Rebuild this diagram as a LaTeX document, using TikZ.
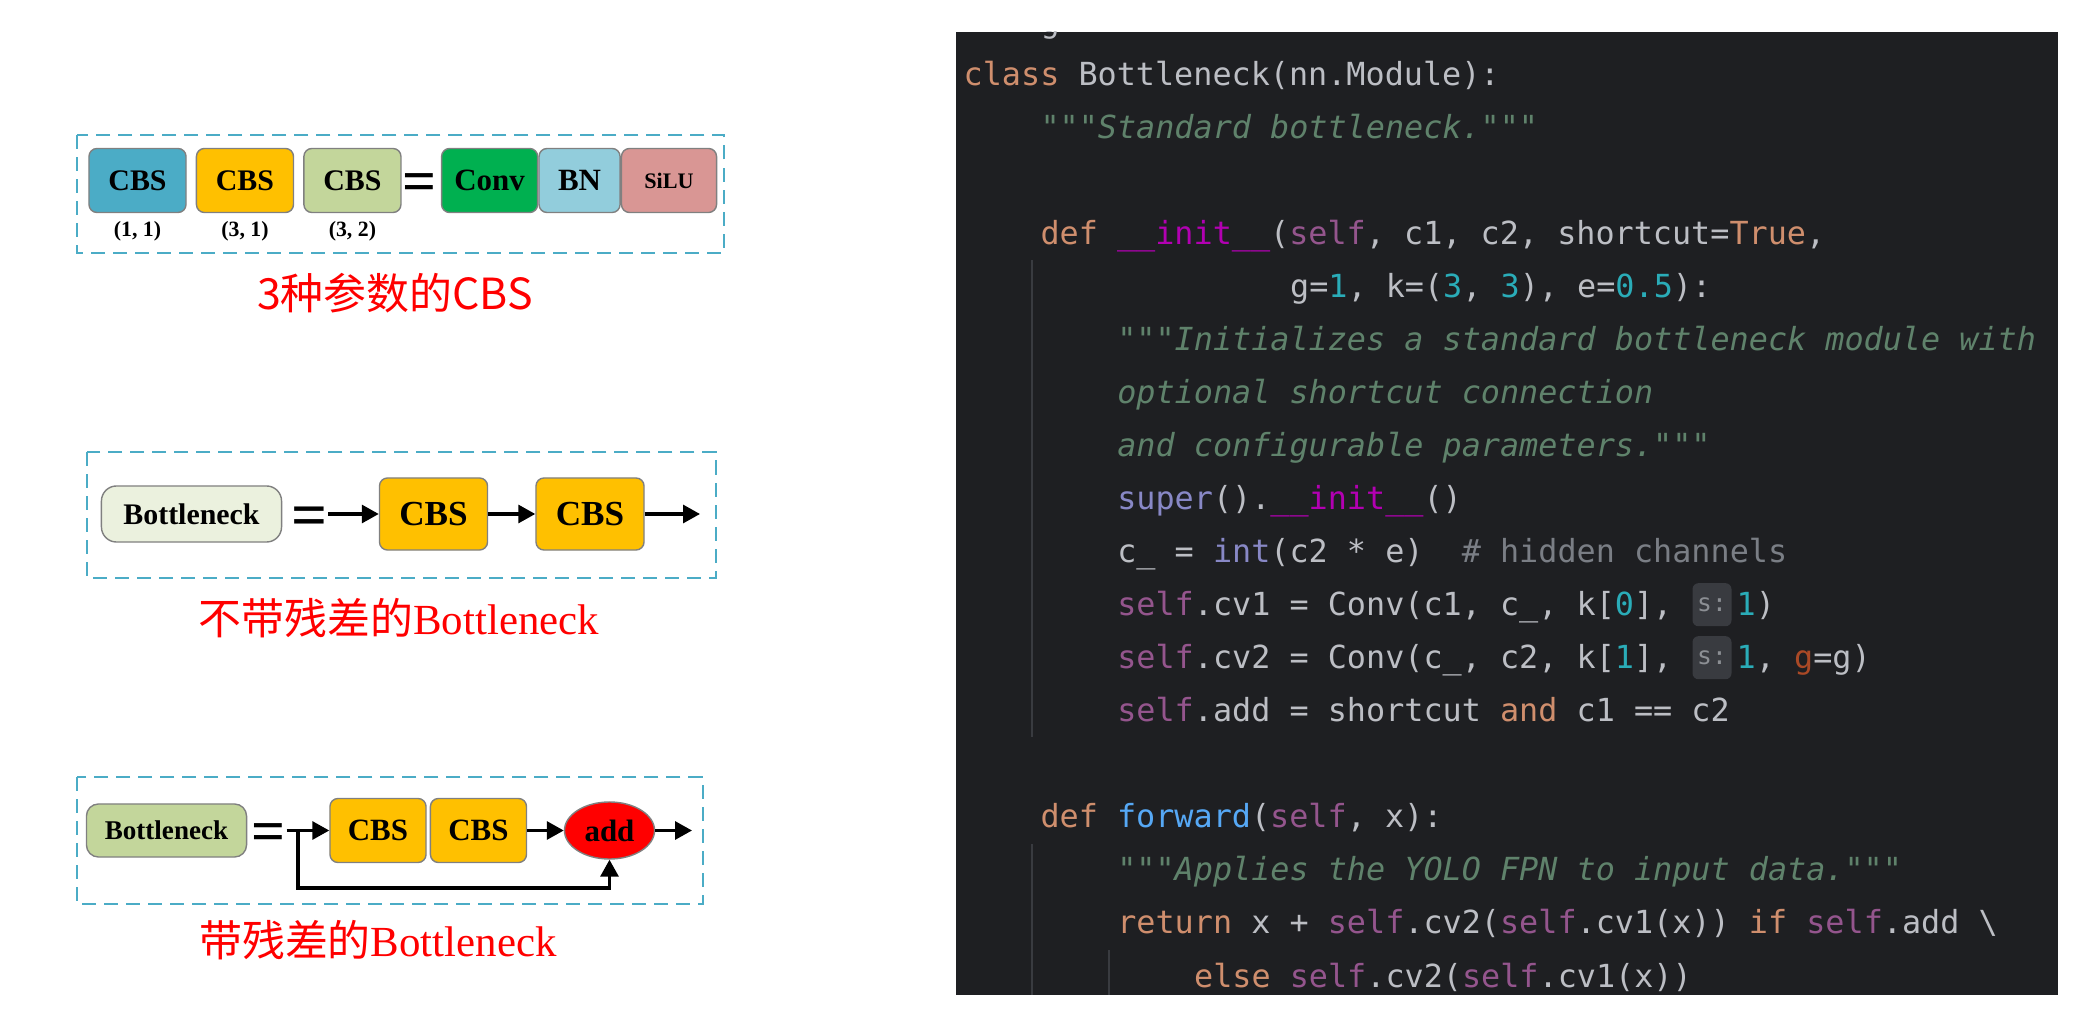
\documentclass[tikz,border=0pt]{standalone}
\usepackage{fontspec}
\setmainfont{Liberation Serif}
\newfontfamily\cjk{Noto Sans CJK SC}
\newfontfamily\codefont{DejaVu Sans Mono}
\usetikzlibrary{arrows.meta,positioning,shapes.geometric}
\definecolor{framecyan}{HTML}{4BACC6}
\definecolor{cbsteal}{HTML}{4BACC6}
\definecolor{cbsgold}{HTML}{FFC000}
\definecolor{cbsolive}{HTML}{C3D69B}
\definecolor{convgreen}{HTML}{00B050}
\definecolor{bnblue}{HTML}{92CDDC}
\definecolor{silurose}{HTML}{D99694}
\definecolor{bnpale}{HTML}{EBF1DE}
\definecolor{capred}{HTML}{FF0000}
\definecolor{codebg}{HTML}{1E1F22}
\definecolor{codeink}{HTML}{BCBEC4}
\definecolor{kwink}{HTML}{CF8E6D}
\definecolor{docgreen}{HTML}{5F826B}
\definecolor{selfink}{HTML}{94558D}
\definecolor{dunderink}{HTML}{B200B2}
\definecolor{numink}{HTML}{2AACB8}
\definecolor{builtinink}{HTML}{8888C6}
\definecolor{funcink}{HTML}{56A8F5}
\definecolor{commentink}{HTML}{7A7E85}
\definecolor{kwargink}{HTML}{AA4926}
\definecolor{guideink}{HTML}{393B40}
\definecolor{hintbg}{HTML}{393B40}
\definecolor{hintink}{HTML}{8C8F94}
\newcommand{\kw}[1]{\textcolor{kwink}{#1}}
\newcommand{\slf}{\textcolor{selfink}{self}}
\newcommand{\pynum}[1]{\textcolor{numink}{#1}}
\newcommand{\pydoc}[1]{\textcolor{docgreen}{\itshape #1}}
\newcommand{\dunder}{\textcolor{dunderink}{\_\_init\_\_}}
\newcommand{\builtin}[1]{\textcolor{builtinink}{#1}}

\begin{document}
\begin{tikzpicture}[
  x=0.01cm, y=-0.01cm,
  >={Triangle[length=1.7mm,width=1.8mm]},
  flow/.style={->, line width=0.9pt, black},
  frame/.style={draw=framecyan, line width=0.7pt, dash pattern=on 1.4mm off 0.8mm},
  cbsbox/.style={draw=black!50, line width=0.4pt, rounded corners=0.8mm,
                 minimum width=0.97cm, minimum height=0.64cm, inner sep=0pt,
                 font=\bfseries\fontsize{8.5pt}{10pt}\selectfont},
  bneck/.style={draw=black!50, line width=0.4pt, inner sep=0pt,
                font=\bfseries\fontsize{8.5pt}{10pt}\selectfont},
  eqsign/.style={inner sep=0pt, font=\bfseries\fontsize{17pt}{18pt}\selectfont},
  sublabel/.style={inner sep=0pt, font=\bfseries\fontsize{6.2pt}{7pt}\selectfont},
  caption/.style={inner sep=0pt, text=capred, font=\fontsize{12.2pt}{14pt}\selectfont},
  codeline/.style={anchor=base west, inner sep=0pt, text=codeink,
                   font=\codefont\fontsize{9.04pt}{10pt}\selectfont\frenchspacing},
  hint/.style={fill=hintbg, rounded corners=0.6mm, inner sep=0pt,
               minimum width=0.39cm, minimum height=0.43cm, text=hintink,
               font=\codefont\fontsize{7pt}{8pt}\selectfont},
  guide/.style={draw=guideink, line width=0.4pt},
]
\useasboundingbox (0,0) rectangle (2079,1010);
\fill[white] (0,0) rectangle (2079,1010);

% --- Three kinds of CBS ---
\draw[frame] (77,135) rectangle (724,253);
\node[cbsbox, fill=cbsteal] (cbsA) at (137.5,180.5) {CBS};
\node[cbsbox, fill=cbsgold, right=0.09cm of cbsA] (cbsB) {CBS};
\node[cbsbox, fill=cbsolive, right=0.09cm of cbsB] (cbsC) {CBS};
\node[sublabel, below=0.07cm of cbsA] (kA) {(1, 1)};
\node[sublabel, below=0.07cm of cbsB] (kB) {(3, 1)};
\node[sublabel, below=0.07cm of cbsC] (kC) {(3, 2)};
\node[eqsign] (eqA) at (419.5,188) {=};
\node[cbsbox, fill=convgreen, minimum width=0.96cm,
      font=\bfseries\fontsize{8.8pt}{10pt}\selectfont] (conv) at (489.6,180.5) {Conv};
\node[cbsbox, fill=bnblue, minimum width=0.81cm, right=0pt of conv,
      font=\bfseries\fontsize{8.8pt}{10pt}\selectfont] (bn) {BN};
\node[cbsbox, fill=silurose, minimum width=0.95cm, right=0pt of bn,
      font=\bfseries\fontsize{6.3pt}{7pt}\selectfont] (silu) {SiLU};
\node[caption, font=\cjk\fontsize{12.2pt}{14pt}\selectfont] (capA) at (395,293) {3种参数的CBS};

% --- Bottleneck without shortcut ---
\draw[frame] (87,452) rectangle (716,578);
\node[bneck, fill=bnpale, rounded corners=1.5mm,
      minimum width=1.80cm, minimum height=0.56cm] (bnA) at (191.5,514) {Bottleneck};
\node[eqsign, font=\bfseries\fontsize{18pt}{19pt}\selectfont] (eqB) at (309.5,521.5) {=};
\node[cbsbox, fill=cbsgold, minimum width=1.08cm, minimum height=0.72cm,
      font=\bfseries\fontsize{10pt}{11pt}\selectfont] (cbsD) at (433.5,514) {CBS};
\node[cbsbox, fill=cbsgold, minimum width=1.08cm, minimum height=0.72cm,
      font=\bfseries\fontsize{10pt}{11pt}\selectfont, right=0.47cm of cbsD] (cbsE) {CBS};
\coordinate (outB) at (700,514);
\draw[flow] (eqB.east |- cbsD.west) -- (cbsD);
\draw[flow] (cbsD) -- (cbsE);
\draw[flow] (cbsE) -- (outB);
\node[caption] (capB) at (399,618) {{\cjk 不带残差的}Bottleneck};

% --- Bottleneck with shortcut ---
\draw[frame] (77,777) rectangle (703,904);
\node[bneck, fill=cbsolive, rounded corners=1.2mm,
      minimum width=1.60cm, minimum height=0.53cm,
      font=\bfseries\fontsize{7.7pt}{9pt}\selectfont] (bnB) at (166.5,830.5) {Bottleneck};
\node[eqsign] (eqC) at (269,838) {=};
\node[cbsbox, fill=cbsgold, minimum width=0.96cm,
      font=\bfseries\fontsize{8.8pt}{10pt}\selectfont] (cbsF) at (378,830.5) {CBS};
\node[cbsbox, fill=cbsgold, minimum width=0.96cm, right=0.03cm of cbsF,
      font=\bfseries\fontsize{8.8pt}{10pt}\selectfont] (cbsG) {CBS};
\node[ellipse, draw=black!50, line width=0.4pt, fill=capred, inner sep=0pt,
      minimum width=0.90cm, minimum height=0.57cm,
      font=\bfseries\fontsize{8.8pt}{10pt}\selectfont] (addC) at (609.5,830.5) {add};
\coordinate (branch) at (298,830.5);
\coordinate (loopC) at (298,888);
\coordinate (outC) at (692,830.5);
\draw[flow] (eqC.east |- cbsF.west) -- (cbsF);
\draw[flow] (cbsG) -- (addC);
\draw[flow] (addC) -- (outC);
\draw[flow] (branch) -- (loopC) -| (addC.south);
\node[caption] (capC) at (378,940) {{\cjk 带残差的}Bottleneck};

% --- Code panel ---
\begin{scope}
\clip (956,32) rectangle (2058,995);
\fill[codebg] (956,32) rectangle (2058,995);
\draw[guide] (1032,260) -- (1032,737);
\draw[guide] (1032,844) -- (1032,995);
\draw[guide] (1109,950) -- (1109,995);
\node[codeline] (ln0)  at (1039.8,32.3)  {g};
\node[codeline] (ln1)  at (963,85.3)     {\kw{class} Bottleneck(nn.Module):};
\node[codeline] (ln2)  at (1039.8,138.3) {\pydoc{"""Standard bottleneck."""}};
\node[codeline] (ln4)  at (1039.8,244.4) {\kw{def} \dunder(\slf, c1, c2, shortcut=\kw{True},};
\node[codeline] (ln5)  at (1289.4,297.5) {g=\pynum{1}, k=(\pynum{3}, \pynum{3}), e=\pynum{0.5}):};
\node[codeline] (ln6)  at (1116.6,350.5) {\pydoc{"""Initializes a standard bottleneck module with}};
\node[codeline] (ln7)  at (1116.6,403.5) {\pydoc{optional shortcut connection}};
\node[codeline] (ln8)  at (1116.6,456.6) {\pydoc{and configurable parameters."""}};
\node[codeline] (ln9)  at (1116.6,509.6) {\builtin{super}().\dunder()};
\node[codeline] (ln10) at (1116.6,562.7) {c\_ = \builtin{int}(c2 * e)\ \ \textcolor{commentink}{\# hidden channels}};
\node[codeline] (ln11) at (1116.6,615.7) {\slf.cv1 = Conv(c1, c\_, k[\pynum{0}],};
\node[hint] (hintA) at (1712,604.7) {s:};
\node[codeline] (ln11b) at (1736,615.7) {\pynum{1})};
\node[codeline] (ln12) at (1116.6,668.7) {\slf.cv2 = Conv(c\_, c2, k[\pynum{1}],};
\node[hint] (hintB) at (1712,657.7) {s:};
\node[codeline] (ln12b) at (1736,668.7) {\pynum{1}, \textcolor{kwargink}{g}=g)};
\node[codeline] (ln13) at (1116.6,721.8) {\slf.add = shortcut \kw{and} c1 == c2};
\node[codeline] (ln15) at (1039.8,827.9) {\kw{def} \textcolor{funcink}{forward}(\slf, x):};
\node[codeline] (ln16) at (1116.6,880.9) {\pydoc{"""Applies the YOLO FPN to input data."""}};
\node[codeline] (ln17) at (1116.6,933.9) {\kw{return} x + \slf.cv2(\slf.cv1(x)) \kw{if} \slf.add \textbackslash};
\node[codeline] (ln18) at (1193.4,987.0) {\kw{else} \slf.cv2(\slf.cv1(x))};
\end{scope}
\end{tikzpicture}
\end{document}
